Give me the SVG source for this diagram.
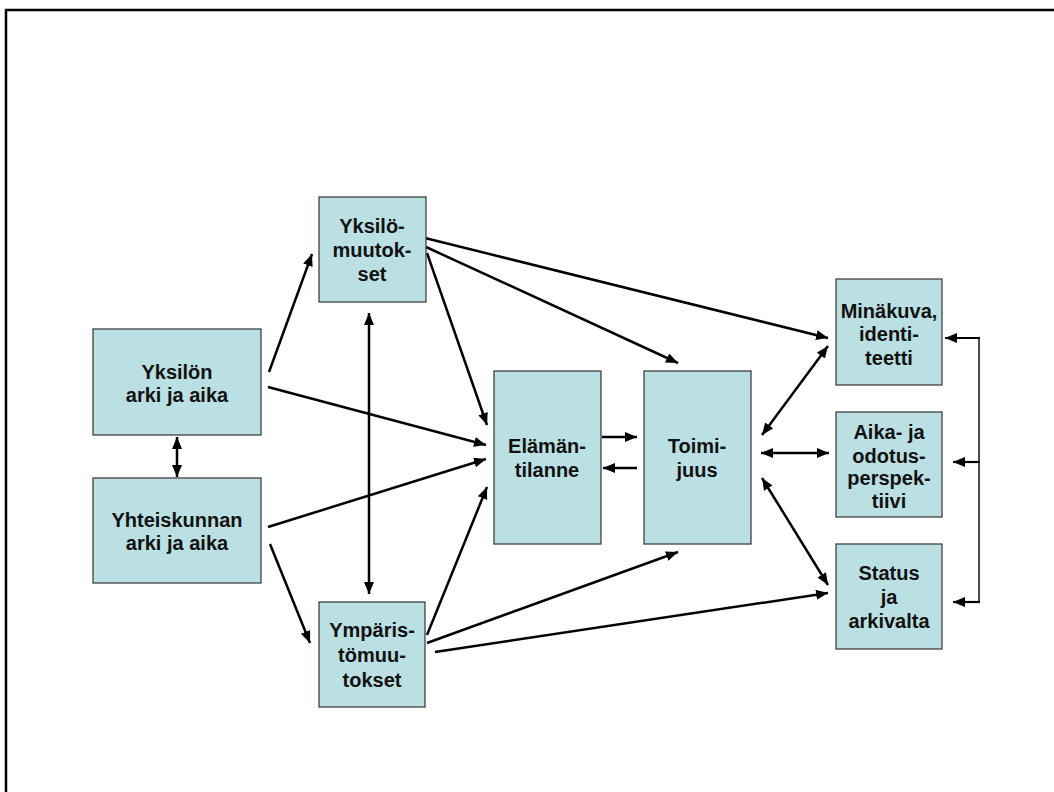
<svg xmlns="http://www.w3.org/2000/svg" width="1054" height="792" viewBox="0 0 1054 792">
<style>
.box{fill:#BBE0E3;stroke:#333;stroke-width:1.2}
.t{font-family:"Liberation Sans",Arial,sans-serif;font-weight:bold;font-size:20px;fill:#111;text-anchor:middle}
.c{stroke:#000;stroke-width:2.5;fill:none;marker-end:url(#ah)}
.d{stroke:#000;stroke-width:2.5;fill:none;marker-start:url(#ah);marker-end:url(#ah)}
.b{stroke:#000;stroke-width:1.4;fill:none}
.bh{stroke:#000;stroke-width:2.2;fill:none;marker-end:url(#ah)}
</style>
<defs>
<marker id="ah" markerUnits="userSpaceOnUse" markerWidth="13" markerHeight="11" refX="12" refY="5" orient="auto-start-reverse">
<path d="M0,0 L12,5 L0,10 z" fill="#000"/>
</marker>
</defs>
<rect width="1054" height="792" fill="#fff"/>
<rect x="6" y="10" width="1100" height="900" fill="none" stroke="#000" stroke-width="2.5"/>
<g id="connectors">
<line class="c" x1="269" y1="372" x2="312" y2="254"/>
<line class="c" x1="268" y1="387" x2="486" y2="445"/>
<line class="c" x1="268" y1="527" x2="486" y2="459"/>
<line class="c" x1="270" y1="544" x2="310" y2="643"/>
<line class="d" x1="177" y1="437" x2="177" y2="477"/>
<line class="d" x1="369" y1="313" x2="369" y2="594"/>
<line class="c" x1="427" y1="253" x2="487" y2="425"/>
<line class="c" x1="426" y1="247" x2="678" y2="363"/>
<line class="c" x1="425" y1="238" x2="828" y2="338"/>
<line class="c" x1="427" y1="635" x2="487" y2="487"/>
<line class="c" x1="427" y1="643" x2="678" y2="552"/>
<line class="c" x1="435" y1="652" x2="828" y2="593"/>
<line class="c" x1="602" y1="437" x2="637" y2="437"/>
<line class="c" x1="637" y1="468" x2="603" y2="468"/>
<line class="d" x1="762" y1="435" x2="828" y2="346"/>
<line class="d" x1="761" y1="453" x2="829" y2="453"/>
<line class="d" x1="762" y1="478" x2="828" y2="585"/>
<line class="b" x1="979" y1="338" x2="979" y2="602"/>
<line class="bh" x1="980" y1="338" x2="945" y2="338"/>
<line class="bh" x1="980" y1="462" x2="953" y2="462"/>
<line class="bh" x1="980" y1="602" x2="953" y2="602"/>
</g>
<g id="yksilon">
<rect class="box" x="93" y="329" width="168" height="106"/>
<text class="t" x="177" y="379"><tspan x="177">Yksilön</tspan><tspan x="177" dy="23">arki ja aika</tspan></text>
</g>
<g id="yhteiskunnan">
<rect class="box" x="93" y="478" width="168" height="105"/>
<text class="t" x="177" y="527"><tspan x="177">Yhteiskunnan</tspan><tspan x="177" dy="23">arki ja aika</tspan></text>
</g>
<g id="yksilomuutokset">
<rect class="box" x="319" y="197" width="107" height="105"/>
<text class="t" x="372" y="233"><tspan x="372">Yksilö-</tspan><tspan x="372" dy="24">muutok-</tspan><tspan x="372" dy="24">set</tspan></text>
</g>
<g id="ymparistomuutokset">
<rect class="box" x="319" y="602" width="106" height="105"/>
<text class="t" x="372" y="637"><tspan x="372">Ympäris-</tspan><tspan x="372" dy="24.5">tömuu-</tspan><tspan x="372" dy="25">tokset</tspan></text>
</g>
<g id="elamantilanne">
<rect class="box" x="494" y="371" width="107" height="173"/>
<text class="t" x="547" y="453"><tspan x="547">Elämän-</tspan><tspan x="547" dy="23.5">tilanne</tspan></text>
</g>
<g id="toimijuus">
<rect class="box" x="644" y="371" width="107" height="173"/>
<text class="t" x="697" y="453"><tspan x="697">Toimi-</tspan><tspan x="697" dy="23.5">juus</tspan></text>
</g>
<g id="minakuva">
<rect class="box" x="836" y="279" width="106" height="106"/>
<text class="t" x="889" y="318"><tspan x="889">Minäkuva,</tspan><tspan x="889" dy="23.4">identi-</tspan><tspan x="889" dy="23.4">teetti</tspan></text>
</g>
<g id="aika">
<rect class="box" x="836" y="412" width="106" height="105"/>
<text class="t" x="889" y="439"><tspan x="889">Aika- ja</tspan><tspan x="889" dy="23.5">odotus-</tspan><tspan x="889" dy="22.5">perspek-</tspan><tspan x="889" dy="23">tiivi</tspan></text>
</g>
<g id="status">
<rect class="box" x="836" y="544" width="106" height="105"/>
<text class="t" x="889" y="580"><tspan x="889">Status</tspan><tspan x="889" dy="24">ja</tspan><tspan x="889" dy="24">arkivalta</tspan></text>
</g>
</svg>
